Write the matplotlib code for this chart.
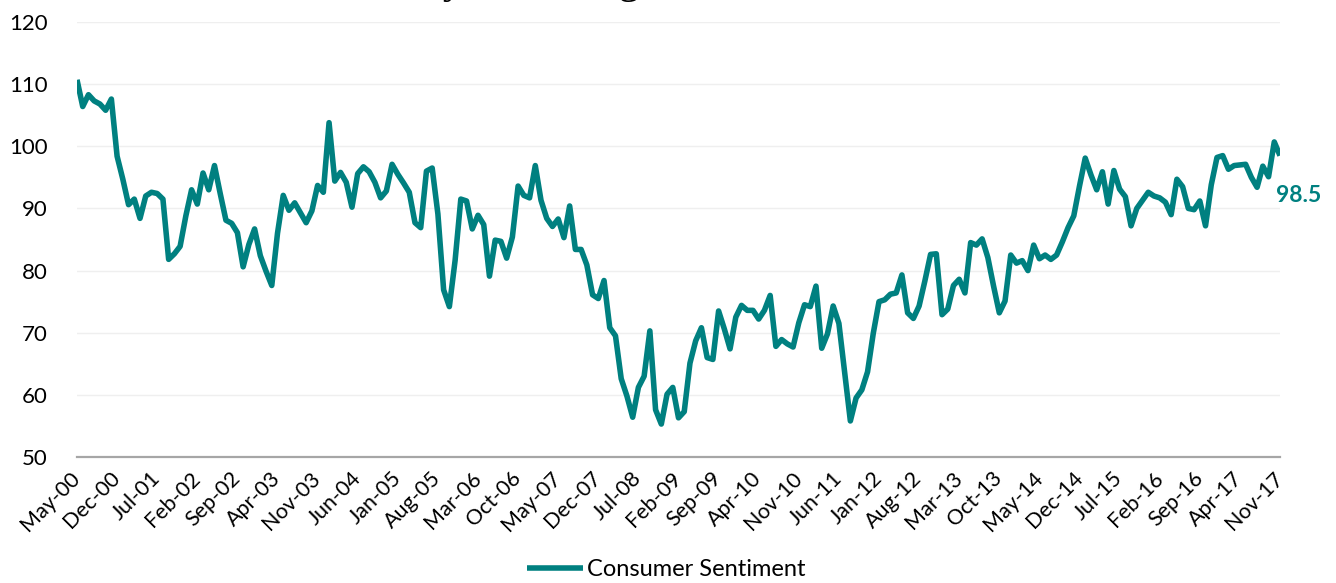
import pandas as pd
import matplotlib
matplotlib.use('Agg')
import matplotlib.pyplot as plt

plt.rcParams['font.family'] = ['Lato', 'DejaVu Sans']

# University of Michigan consumer sentiment, monthly, May-2000 .. Nov-2017
sentimento = [
    110.7, 106.4, 108.3, 107.3, 106.8, 105.8, 107.6, 98.4,                 # 2000 (mai-dez)
    94.7, 90.6, 91.5, 88.4, 92.0, 92.6, 92.4, 91.5, 81.8, 82.7, 83.9, 88.8,  # 2001
    93.0, 90.7, 95.7, 93.0, 96.9, 92.4, 88.1, 87.6, 86.1, 80.6, 84.2, 86.7,  # 2002
    82.4, 79.9, 77.6, 86.0, 92.1, 89.7, 90.9, 89.3, 87.7, 89.6, 93.7, 92.6,  # 2003
    103.8, 94.4, 95.8, 94.2, 90.2, 95.6, 96.7, 95.9, 94.2, 91.7, 92.8, 97.1, # 2004
    95.5, 94.1, 92.6, 87.7, 86.9, 96.0, 96.5, 89.1, 76.9, 74.2, 81.6, 91.5,  # 2005
    91.2, 86.7, 88.9, 87.4, 79.1, 84.9, 84.7, 82.0, 85.4, 93.6, 92.1, 91.7,  # 2006
    96.9, 91.3, 88.4, 87.1, 88.3, 85.3, 90.4, 83.4, 83.4, 80.9, 76.1, 75.5,  # 2007
    78.4, 70.8, 69.5, 62.6, 59.8, 56.4, 61.2, 63.0, 70.3, 57.6, 55.3, 60.1,  # 2008
    61.2, 56.3, 57.3, 65.1, 68.7, 70.8, 66.0, 65.7, 73.5, 70.6, 67.4, 72.5,  # 2009
    74.4, 73.6, 73.6, 72.2, 73.6, 76.0, 67.8, 68.9, 68.2, 67.7, 71.6, 74.5,  # 2010
    74.2, 77.5, 67.5, 69.8, 74.3, 71.5, 63.7, 55.8, 59.5, 60.8, 63.7, 69.9,  # 2011
    75.0, 75.3, 76.2, 76.4, 79.3, 73.2, 72.3, 74.3, 78.3, 82.6, 82.7, 72.9,  # 2012
    73.8, 77.6, 78.6, 76.4, 84.5, 84.1, 85.1, 82.1, 77.5, 73.2, 75.1, 82.5,  # 2013
    81.2, 81.6, 80.0, 84.1, 81.9, 82.5, 81.8, 82.5, 84.6, 86.9, 88.8, 93.6,  # 2014
    98.1, 95.4, 93.0, 95.9, 90.7, 96.1, 93.1, 91.9, 87.2, 90.0, 91.3, 92.6,  # 2015
    92.0, 91.7, 91.0, 89.0, 94.7, 93.5, 90.0, 89.8, 91.2, 87.2, 93.8, 98.2,  # 2016
    98.5, 96.3, 96.9, 97.0, 97.1, 95.0, 93.4, 96.8, 95.1, 100.7, 98.5,       # 2017 (jan-nov)
]
meses = pd.date_range('2000-05-01', periods=len(sentimento), freq='MS')
rotulos_meses = [m.strftime('%b-%y') for m in meses]
serie_nome = 'Consumer Sentiment'
titulo = 'University of Michigan Consumer Sentiment'
cor = '#008080'

W, H = 1336, 583
fig = plt.figure(figsize=(W / 100, H / 100), dpi=100)
ax = fig.add_axes([77 / W, (H - 457) / H, (1280 - 77) / W, (457 - 22) / H])

x = list(range(len(sentimento)))
ax.plot(x, sentimento, color=cor, linewidth=4.0, solid_joinstyle='round',
        solid_capstyle='butt', label=serie_nome, zorder=3)

ax.set_xlim(0, len(sentimento) - 1)
ax.set_ylim(50, 120)
ax.set_yticks(range(50, 121, 10))
ax.grid(axis='y', color='#efefef', linewidth=1.0)
ax.set_axisbelow(True)

posicoes = x[::7]
ax.set_xticks(posicoes)
ax.set_xticklabels([rotulos_meses[i] for i in posicoes], rotation=45,
                   ha='right', va='center', rotation_mode='anchor')

for lado in ['top', 'right', 'left']:
    ax.spines[lado].set_visible(False)
ax.spines['bottom'].set_color('#a6a6a6')
ax.spines['bottom'].set_linewidth(1.6)

ax.tick_params(axis='y', length=0, pad=21, labelsize=16)
ax.tick_params(axis='x', length=0, pad=13, labelsize=15.5)

# rotulo do ultimo valor
ax.annotate(f'{sentimento[-1]:.1f}', xy=(x[-1], sentimento[-1]),
            xytext=(-3, -29), textcoords='offset points',
            ha='left', va='center', color=cor, fontsize=16.5, fontweight='bold')

fig.legend(loc='center', bbox_to_anchor=(666 / W, (H - 570) / H), frameon=False,
           fontsize=17, handlelength=2.4, handletextpad=0.15, borderpad=0)

# titulo cortado no topo da imagem (so as hastes aparecem)
fig.text(288 / W, (H + 7.5) / H, titulo, family='Liberation Serif', fontsize=30,
         ha='left', va='baseline', color='black')

fig.savefig('out.png', dpi=100)
